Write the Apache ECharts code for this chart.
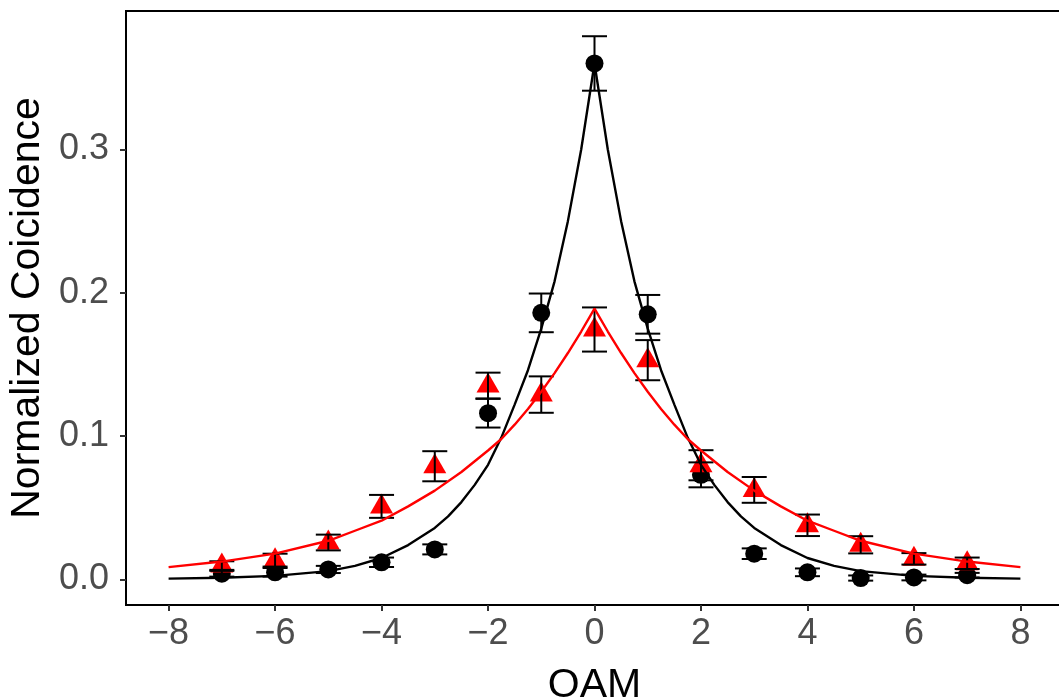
<!DOCTYPE html>
<html>
<head>
<meta charset="utf-8">
<script src="https://cdn.jsdelivr.net/npm/echarts@6/dist/echarts.min.js"></script>
<style>
html,body{margin:0;padding:0;background:#fff;}
#chart{width:1059px;height:697px;}
</style>
</head>
<body>
<div id="chart"></div>
<script>
// ---- data ----
const oam = [-7, -6, -5, -4, -3, -2, -1, 0, 1, 2, 3, 4, 5, 6, 7];
const blackMean = [0.004, 0.005, 0.007, 0.012, 0.021, 0.116, 0.186, 0.360, 0.185, 0.073, 0.018, 0.005, 0.001, 0.0014, 0.003];
const blackErr  = [0.002, 0.003, 0.0025, 0.0033, 0.0035, 0.010, 0.0135, 0.019, 0.0135, 0.0087, 0.0037, 0.0027, 0.0018, 0.002, 0.0016];
const redMean   = [0.0097, 0.0135, 0.0258, 0.051, 0.079, 0.1353, 0.129, 0.1744, 0.153, 0.0797, 0.0625, 0.0378, 0.0242, 0.0144, 0.0113];
const redErr    = [0.003, 0.0045, 0.0055, 0.008, 0.0105, 0.009, 0.0127, 0.0154, 0.014, 0.0105, 0.009, 0.0075, 0.006, 0.004, 0.004];

// fitted curves
const blackFitX = [-8, -7, -6, -5, -4.5, -4, -3.5, -3, -2.75, -2.5, -2.25, -2, -1.75, -1.5, -1.25, -1, -0.75, -0.5, -0.25, 0,
                   0.25, 0.5, 0.75, 1, 1.25, 1.5, 1.75, 2, 2.25, 2.5, 2.75, 3, 3.5, 4, 4.5, 5, 6, 7, 8];
const blackFit  = [0.0006, 0.0012, 0.0025, 0.0058, 0.0095, 0.015, 0.024, 0.036, 0.044, 0.054, 0.066, 0.080, 0.099, 0.122, 0.146, 0.175, 0.208, 0.250, 0.300, 0.360,
                   0.300, 0.250, 0.208, 0.175, 0.146, 0.122, 0.099, 0.080, 0.066, 0.054, 0.044, 0.036, 0.024, 0.015, 0.0095, 0.0058, 0.0025, 0.0012, 0.0006];
const redFitX   = [-8, -7, -6, -5, -4.5, -4, -3.5, -3, -2.5, -2, -1.75, -1.5, -1.25, -1, -0.75, -0.5, -0.25, 0,
                   0.25, 0.5, 0.75, 1, 1.25, 1.5, 1.75, 2, 2.5, 3, 3.5, 4, 4.5, 5, 6, 7, 8];
const redFit    = [0.0086, 0.0125, 0.018, 0.027, 0.034, 0.041, 0.051, 0.062, 0.075, 0.090, 0.098, 0.108, 0.119, 0.131, 0.144, 0.158, 0.173, 0.189,
                   0.173, 0.158, 0.144, 0.131, 0.119, 0.108, 0.098, 0.090, 0.075, 0.062, 0.051, 0.041, 0.034, 0.027, 0.018, 0.0125, 0.0086];

const xTicks = [-8, -6, -4, -2, 0, 2, 4, 6, 8];
const yTicks = [0, 0.1, 0.2, 0.3];

// ---- build series data ----
const zip = (xs, ys) => xs.map((x, i) => [x, ys[i]]);
const errData = (means, errs) => oam.map((x, i) => [x, means[i] - errs[i], means[i] + errs[i]]);

function errorBarRender(params, api) {
  const x = api.value(0);
  const lo = api.coord([x, api.value(1)]);
  const hi = api.coord([x, api.value(2)]);
  const hw = 12.5;
  const st = {stroke: '#000', lineWidth: 2};
  return {
    type: 'group',
    children: [
      {type: 'line', shape: {x1: lo[0], y1: lo[1], x2: hi[0], y2: hi[1]}, style: st},
      {type: 'line', shape: {x1: lo[0] - hw, y1: lo[1], x2: lo[0] + hw, y2: lo[1]}, style: st},
      {type: 'line', shape: {x1: hi[0] - hw, y1: hi[1], x2: hi[0] + hw, y2: hi[1]}, style: st}
    ]
  };
}

const FONT = "'Liberation Sans', Arial, Helvetica, sans-serif";
const fmtMinus = v => (v < 0 ? '\u2212' + Math.abs(v) : String(v));

const chart = echarts.init(document.getElementById('chart'), null, {renderer: 'canvas'});
chart.setOption({
  animation: false,
  backgroundColor: '#ffffff',
  grid: {
    left: 126, top: 11, width: 937, height: 594,
    containLabel: false, outerBoundsMode: 'none',
    show: true, borderColor: '#000', borderWidth: 2, backgroundColor: 'transparent'
  },
  xAxis: {
    type: 'value', min: -8.8, max: 8.8,
    name: 'OAM', nameLocation: 'middle', nameGap: 60,
    nameTextStyle: {color: '#000', fontSize: 41, fontFamily: FONT},
    axisLine: {show: true, onZero: false, lineStyle: {color: '#000', width: 2}},
    axisTick: {show: true, length: 6, customValues: xTicks, lineStyle: {color: '#333', width: 2}},
    axisLabel: {customValues: xTicks, formatter: fmtMinus, color: '#4D4D4D', fontSize: 36, fontFamily: FONT, margin: 11},
    splitLine: {show: false}
  },
  yAxis: {
    type: 'value', min: -0.0178, max: 0.3966,
    name: 'Normalized Coicidence', nameLocation: 'middle', nameGap: 78,
    nameTextStyle: {color: '#000', fontSize: 41, fontFamily: FONT},
    axisLine: {show: true, onZero: false, lineStyle: {color: '#000', width: 2}},
    axisTick: {show: true, length: 6, customValues: yTicks, lineStyle: {color: '#333', width: 2}},
    axisLabel: {customValues: yTicks, formatter: v => v.toFixed(1), color: '#4D4D4D', fontSize: 36, fontFamily: FONT, margin: 17},
    splitLine: {show: false}
  },
  series: [
    {
      type: 'scatter', name: 'black points', data: zip(oam, blackMean),
      symbol: 'circle', symbolSize: 18, itemStyle: {color: '#000', opacity: 1}, z: 2
    },
    {
      type: 'scatter', name: 'red points', data: zip(oam, redMean),
      symbol: 'triangle', symbolSize: [23, 20], symbolOffset: [0, -3], itemStyle: {color: '#FF0000', opacity: 1}, z: 3
    },
    {
      type: 'custom', name: 'black err', data: errData(blackMean, blackErr),
      renderItem: errorBarRender, encode: {x: 0, y: [1, 2]}, z: 4
    },
    {
      type: 'custom', name: 'red err', data: errData(redMean, redErr),
      renderItem: errorBarRender, encode: {x: 0, y: [1, 2]}, z: 4
    },
    {
      type: 'line', name: 'black fit', data: zip(blackFitX, blackFit), showSymbol: false,
      lineStyle: {color: '#000', width: 2.4}, smooth: false, z: 5
    },
    {
      type: 'line', name: 'red fit', data: zip(redFitX, redFit), showSymbol: false,
      lineStyle: {color: '#FF0000', width: 2.4}, smooth: false, z: 5
    }
  ]
});
</script>
</body>
</html>
